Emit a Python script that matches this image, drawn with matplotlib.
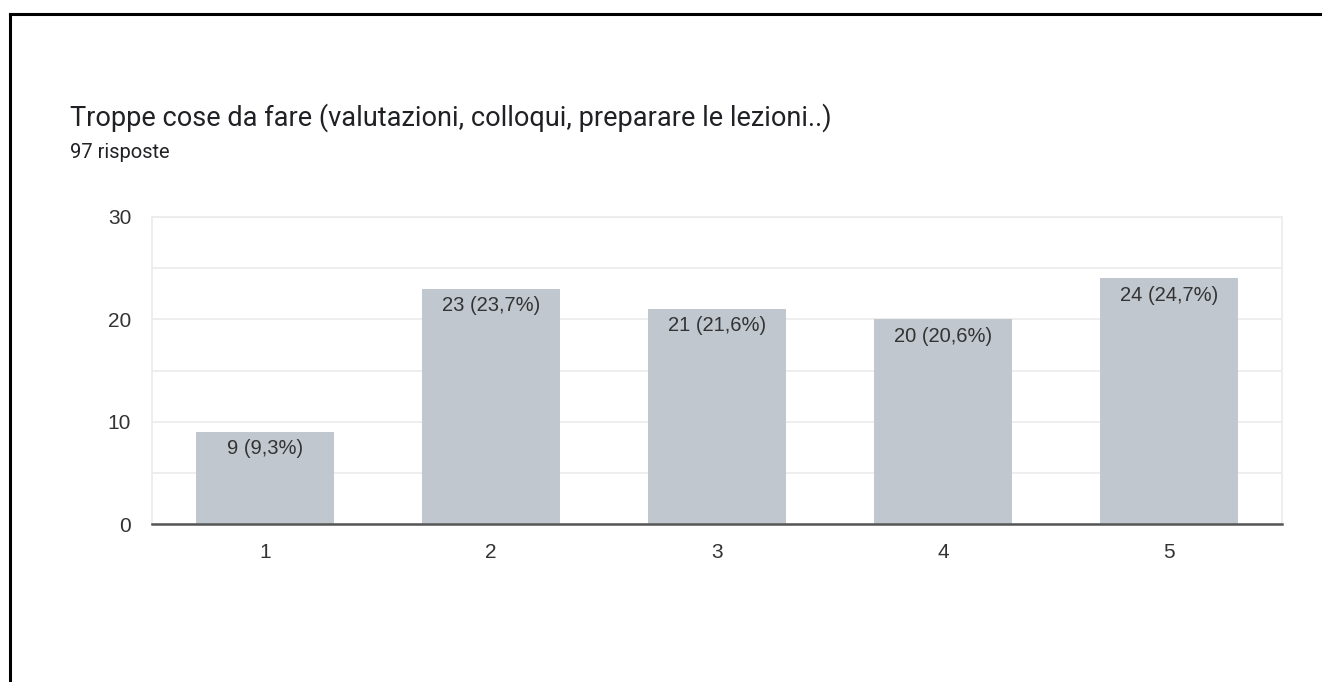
import numpy as np
import matplotlib.pyplot as plt
from matplotlib.lines import Line2D

plt.rcParams['font.family'] = ['Liberation Sans', 'DejaVu Sans']

# data
categories = ['1', '2', '3', '4', '5']
counts = [9, 23, 21, 20, 24]
percents = ['9,3%', '23,7%', '21,6%', '20,6%', '24,7%']
title = 'Troppe cose da fare (valutazioni, colloqui, preparare le lezioni..)'
subtitle = '97 risposte'

W, H = 1322, 682
fig = plt.figure(figsize=(W / 100, H / 100), dpi=100)
fig.patch.set_facecolor('white')

# axes placed in pixel coords
left, right, top, bottom = 152, 1282, 217, 524
ax = fig.add_axes([left / W, 1 - bottom / H, (right - left) / W, (bottom - top) / H])

x = np.arange(len(categories))
bars = ax.bar(x, counts, width=0.61, color='#c0c7ce', zorder=2)

for b, c, p in zip(bars, counts, percents):
    ax.annotate(f'{c} ({p})', (b.get_x() + b.get_width() / 2, b.get_height()),
                xytext=(0, -12), textcoords='offset points',
                ha='center', va='center', fontsize=14.5, color='#333333', zorder=3)

ax.set_xlim(-0.5, len(categories) - 0.5)
ax.set_ylim(0, 30)
ax.set_yticks([0, 10, 20, 30])
ax.set_yticks([5, 15, 25], minor=True)
ax.set_xticks(x)
ax.set_xticklabels(categories)
ax.tick_params(axis='both', length=0, labelsize=15, colors='#333333')
ax.tick_params(axis='y', pad=15, which='major')
ax.tick_params(axis='y', which='minor', length=0)
ax.tick_params(axis='x', pad=14)
ax.grid(axis='y', which='both', color='#ebebeb', linewidth=1.2, zorder=0)

for s in ['top', 'left', 'right']:
    ax.spines[s].set_color('#ebebeb')
    ax.spines[s].set_linewidth(1.2)
ax.spines['bottom'].set_color('#555555')
ax.spines['bottom'].set_linewidth(1.8)
ax.spines['bottom'].set_zorder(4)

fig.text(70 / W, 1 - 118 / H, title, fontsize=19.5, color='#202124',
         va='center', ha='left', family=['Roboto', 'DejaVu Sans'])
fig.text(70 / W, 1 - 153 / H, subtitle, fontsize=14.5, color='#202124',
         va='center', ha='left', family=['Roboto', 'DejaVu Sans'])

# black frame around the screenshot (left and top edges)
fig.add_artist(Line2D([10 / W, 10 / W], [0, 1 - 14 / H], transform=fig.transFigure,
                      color='black', linewidth=2.2, solid_capstyle='projecting'))
fig.add_artist(Line2D([10 / W, 1], [1 - 14 / H, 1 - 14 / H], transform=fig.transFigure,
                      color='black', linewidth=2.2, solid_capstyle='projecting'))

fig.savefig('out.png', dpi=100, facecolor='white')
